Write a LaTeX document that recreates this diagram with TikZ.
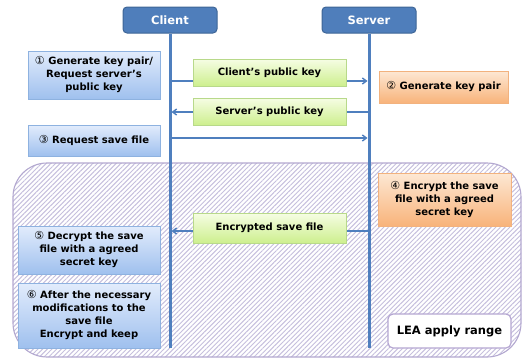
\documentclass[tikz,border=0pt]{standalone}
\usepackage{fontspec}
\setmainfont{DejaVu Sans}
\usetikzlibrary{arrows.meta,shadows,patterns.meta}

\definecolor{hdrfill}{HTML}{4F7EBB}
\definecolor{hdrdraw}{HTML}{3D6596}
\definecolor{lifeline}{HTML}{4F7FBE}
\definecolor{bluetop}{HTML}{E2ECFC}
\definecolor{bluebot}{HTML}{9FC0EE}
\definecolor{bluedraw}{HTML}{8EB2E0}
\definecolor{greentop}{HTML}{F6FDE4}
\definecolor{greenbot}{HTML}{CDEF8E}
\definecolor{greendraw}{HTML}{B8D98A}
\definecolor{orangetop}{HTML}{FDE8D4}
\definecolor{orangebot}{HTML}{F8B37A}
\definecolor{orangedraw}{HTML}{F2B27E}
\definecolor{hatchline}{HTML}{C6BFDD}
\definecolor{regiondraw}{HTML}{B3A8D0}
\definecolor{leadraw}{HTML}{B5A6D2}

\newcommand{\cnum}[1]{{\mdseries\fontsize{11}{13}\selectfont #1}}

\tikzset{
  every node/.style={font=\fontsize{10}{13}\selectfont\bfseries, inner sep=2pt},
  header/.style={draw=hdrdraw, line width=1pt, fill=hdrfill, rounded corners=4pt,
    text=white, minimum width=94pt, minimum height=26pt, font=\fontsize{11.5}{13}\selectfont\bfseries},
  bluebox/.style={draw=bluedraw, line width=0.8pt, top color=bluetop, bottom color=bluebot,
    align=center, drop shadow={opacity=0.25, shadow xshift=1.2pt, shadow yshift=-1.2pt}},
  greenbox/.style={draw=greendraw, line width=0.8pt, top color=greentop, bottom color=greenbot,
    align=center, minimum width=153pt, drop shadow={opacity=0.25, shadow xshift=1.2pt, shadow yshift=-1.2pt}},
  orangebox/.style={draw=orangedraw, line width=0.8pt, top color=orangetop, bottom color=orangebot,
    align=center, drop shadow={opacity=0.25, shadow xshift=1.2pt, shadow yshift=-1.2pt}},
  lifelinestyle/.style={lifeline, line width=3pt},
  msg/.style={lifeline, line width=1.4pt, -{Straight Barb[length=4pt,width=6pt]}},
}

\begin{document}
\begin{tikzpicture}[x=1pt, y=-1pt]
  \useasboundingbox (0,0) rectangle (524,359);

  % hatched range where LEA is used
  \path[fill=white, rounded corners=34pt] (13,163) rectangle (521,357);
  \path[pattern={Lines[angle=45, distance=3.3pt, line width=0.95pt]}, pattern color=hatchline,
    rounded corners=34pt] (13,163) rectangle (521,357);
  \draw[regiondraw, line width=1.1pt, rounded corners=34pt] (13,163) rectangle (521,357);

  % participants
  \node[header] (client) at (170,20) {Client};
  \node[header] (server) at (369,20) {Server};
  \coordinate (clientend) at (170,348);
  \coordinate (serverend) at (369,348);
  \draw[lifelinestyle] (client.south) -- (clientend);
  \draw[lifelinestyle] (server.south) -- (serverend);

  % message rows on the lifelines
  \coordinate (c1) at (171.5,81);  \coordinate (s1) at (367.5,81);
  \coordinate (c2) at (171.5,112); \coordinate (s2) at (367.5,112);
  \coordinate (c3) at (171.5,138); \coordinate (s3) at (367.5,138);
  \coordinate (c4) at (171.5,231); \coordinate (s4) at (367.5,231);

  \draw[msg] (c1) -- (s1);
  \draw[msg] (s2) -- (c2);
  \draw[msg] (c3) -- (s3);
  \draw[msg] (s4) -- (c4);

  % transferred items
  \node[greenbox, minimum height=27pt] (m1) at (269.5,72.5) {Client’s public key};
  \node[greenbox, minimum height=27pt] (m2) at (269.5,111.5) {Server’s public key};
  \node[greenbox, minimum height=30pt] (m4) at (269.5,228) {Encrypted save file};

  % client steps
  \node[bluebox, minimum width=132pt, minimum height=48pt] (step1) at (94,75)
    {\cnum{①} Generate key pair/\\Request server’s\\public key};
  \node[bluebox, minimum width=132pt, minimum height=31pt] (step3) at (94,140.5)
    {\cnum{③} Request save file};
  \node[bluebox, minimum width=142pt, minimum height=48pt] (step5) at (89,250)
    {\cnum{⑤} Decrypt the save\\file with a agreed\\secret key};
  \node[bluebox, minimum width=142pt, minimum height=65pt] (step6) at (89,315.5)
    {\cnum{⑥} After the necessary\\modifications to the\\save file\\Encrypt and keep};

  % server steps
  \node[orangebox, minimum width=129pt, minimum height=32pt] (step2) at (443.5,87)
    {\cnum{②} Generate key pair};
  \node[orangebox, minimum width=133pt, minimum height=53pt] (step4) at (444.5,199.5)
    {\cnum{④} Encrypt the save\\file with a agreed\\secret key};

  % legend
  \node[draw=leadraw, line width=1.2pt, fill=white, rounded corners=5pt,
    minimum width=123pt, minimum height=34pt, font=\fontsize{11.5}{13}\selectfont\bfseries]
    (lea) at (449.5,331) {LEA apply range};
\end{tikzpicture}
\end{document}
